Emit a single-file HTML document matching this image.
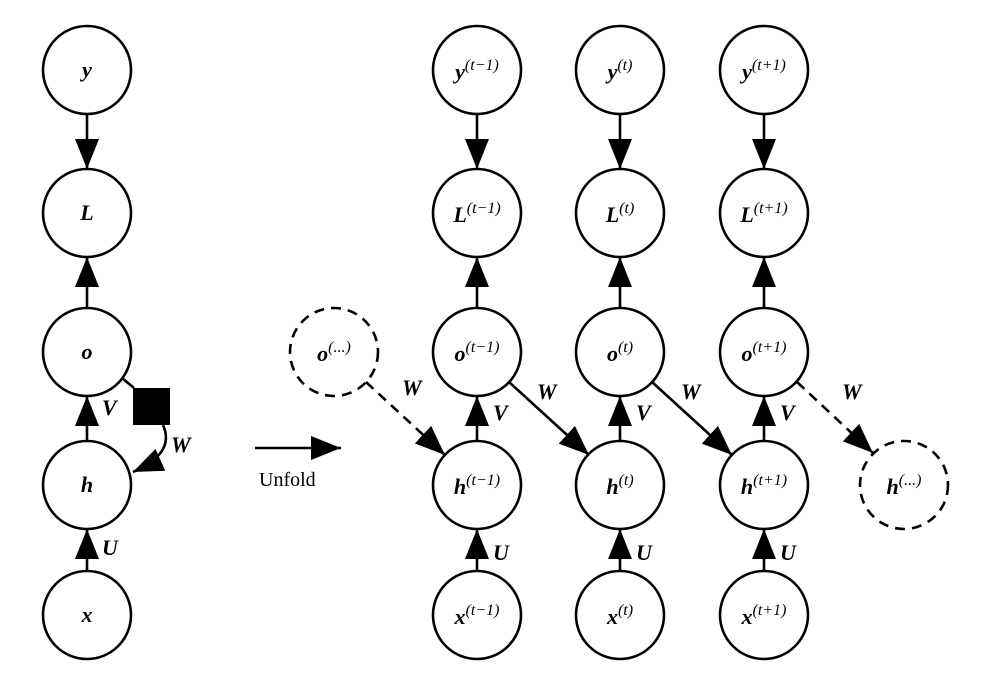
<!DOCTYPE html>
<html><head><style>body{margin:0;background:#fff}svg{display:block}
text{font-family:"Liberation Serif",serif;font-size:22px}
.m{font-weight:bold;font-style:italic}
.s{font-style:italic;font-weight:normal;font-size:16px}
</style></head><body>
<svg width="1000" height="682" viewBox="0 0 1000 682">
<defs>
<marker id="a" markerUnits="userSpaceOnUse" markerWidth="32" markerHeight="24" refX="30" refY="12" orient="auto"><path d="M0,0 L30,12 L0,24 Z" fill="#000"/></marker>
</defs>
<g fill="none" stroke="#000" stroke-width="2.6">
<circle cx="87" cy="70" r="44"/><circle cx="87" cy="213" r="44"/><circle cx="87" cy="352" r="44"/><circle cx="87" cy="485" r="44"/><circle cx="87" cy="615" r="44"/>
<circle cx="477" cy="70" r="44"/><circle cx="477" cy="213" r="44"/><circle cx="477" cy="352" r="44"/><circle cx="477" cy="485" r="44"/><circle cx="477" cy="615" r="44"/>
<circle cx="620" cy="70" r="44"/><circle cx="620" cy="213" r="44"/><circle cx="620" cy="352" r="44"/><circle cx="620" cy="485" r="44"/><circle cx="620" cy="615" r="44"/>
<circle cx="764" cy="70" r="44"/><circle cx="764" cy="213" r="44"/><circle cx="764" cy="352" r="44"/><circle cx="764" cy="485" r="44"/><circle cx="764" cy="615" r="44"/>
<circle cx="334" cy="352" r="44" stroke-dasharray="10,7"/>
<circle cx="904" cy="485" r="44" stroke-dasharray="10,7"/>
<g marker-end="url(#a)">
<line x1="87" y1="114" x2="87" y2="169"/><line x1="87" y1="308" x2="87" y2="257"/><line x1="87" y1="441" x2="87" y2="396"/><line x1="87" y1="571" x2="87" y2="529"/>
<line x1="477" y1="114" x2="477" y2="169"/><line x1="477" y1="308" x2="477" y2="257"/><line x1="477" y1="441" x2="477" y2="396"/><line x1="477" y1="571" x2="477" y2="529"/>
<line x1="620" y1="114" x2="620" y2="169"/><line x1="620" y1="308" x2="620" y2="257"/><line x1="620" y1="441" x2="620" y2="396"/><line x1="620" y1="571" x2="620" y2="529"/>
<line x1="764" y1="114" x2="764" y2="169"/><line x1="764" y1="308" x2="764" y2="257"/><line x1="764" y1="441" x2="764" y2="396"/><line x1="764" y1="571" x2="764" y2="529"/>
<line x1="509" y1="382" x2="589" y2="455"/><line x1="652" y1="382" x2="732" y2="455"/>
<line x1="366" y1="382" x2="445" y2="455" stroke-dasharray="10,7"/>
<line x1="797" y1="382" x2="873" y2="453" stroke-dasharray="10,7"/>
<line x1="255" y1="448" x2="341" y2="448"/>
<path d="M163,425 C172,445 160,460 133,472"/>
</g>
<line x1="122" y1="378" x2="134" y2="388"/>
</g>
<rect x="133" y="388" width="37" height="37" fill="#000"/>
<g text-anchor="middle">
<text x="87" y="77" class="m">y</text><text x="87" y="220" class="m">L</text><text x="87" y="359" class="m">o</text><text x="87" y="492" class="m">h</text><text x="87" y="622" class="m">x</text>
<text x="477" y="79" class="m">y<tspan class="s" dy="-9">(t−1)</tspan></text>
<text x="620" y="79" class="m">y<tspan class="s" dy="-9">(t)</tspan></text>
<text x="764" y="79" class="m">y<tspan class="s" dy="-9">(t+1)</tspan></text>
<text x="477" y="222" class="m">L<tspan class="s" dy="-9">(t−1)</tspan></text>
<text x="620" y="222" class="m">L<tspan class="s" dy="-9">(t)</tspan></text>
<text x="764" y="222" class="m">L<tspan class="s" dy="-9">(t+1)</tspan></text>
<text x="477" y="361" class="m">o<tspan class="s" dy="-9">(t−1)</tspan></text>
<text x="620" y="361" class="m">o<tspan class="s" dy="-9">(t)</tspan></text>
<text x="764" y="361" class="m">o<tspan class="s" dy="-9">(t+1)</tspan></text>
<text x="334" y="361" class="m">o<tspan class="s" dy="-9">(...)</tspan></text>
<text x="477" y="494" class="m">h<tspan class="s" dy="-9">(t−1)</tspan></text>
<text x="620" y="494" class="m">h<tspan class="s" dy="-9">(t)</tspan></text>
<text x="764" y="494" class="m">h<tspan class="s" dy="-9">(t+1)</tspan></text>
<text x="904" y="494" class="m">h<tspan class="s" dy="-9">(...)</tspan></text>
<text x="477" y="624" class="m">x<tspan class="s" dy="-9">(t−1)</tspan></text>
<text x="620" y="624" class="m">x<tspan class="s" dy="-9">(t)</tspan></text>
<text x="764" y="624" class="m">x<tspan class="s" dy="-9">(t+1)</tspan></text>
</g>
<g>
<text x="102" y="415" class="m">V</text><text x="493" y="420" class="m">V</text><text x="636" y="420" class="m">V</text><text x="780" y="420" class="m">V</text>
<text x="102" y="555" class="m">U</text><text x="493" y="560" class="m">U</text><text x="636" y="560" class="m">U</text><text x="780" y="560" class="m">U</text>
<text x="171" y="452" class="m">W</text>
<text x="402" y="395" class="m">W</text><text x="537" y="399" class="m">W</text><text x="681" y="399" class="m">W</text><text x="842" y="399" class="m">W</text>
</g>
<text x="259" y="486" style="font-size:20px">Unfold</text>
</svg>
</body></html>
